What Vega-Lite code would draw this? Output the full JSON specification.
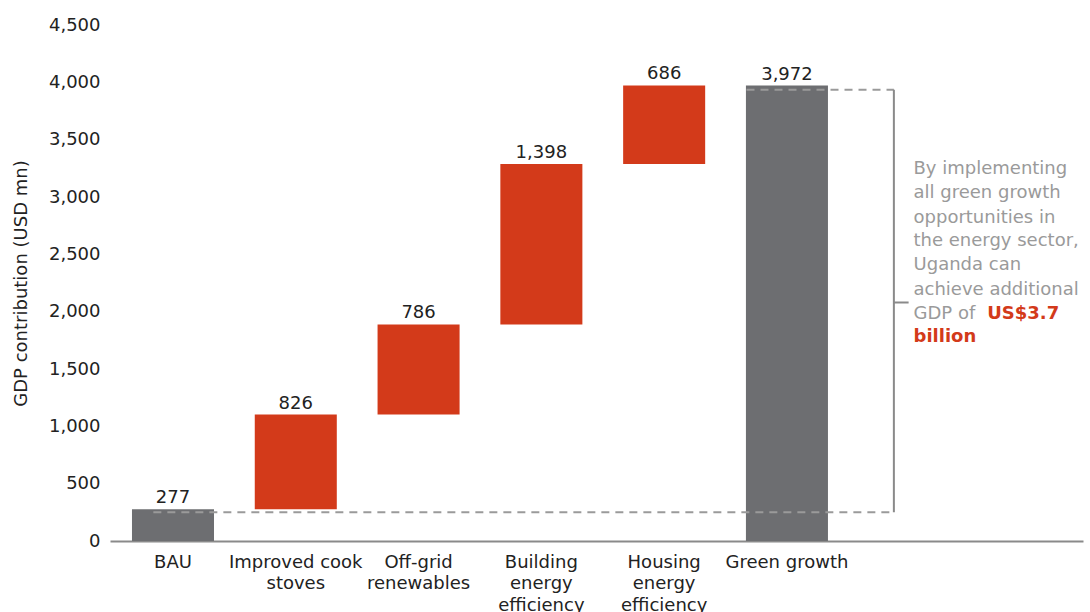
{
  "$schema": "https://vega.github.io/schema/vega-lite/v6.json",
  "width": 973,
  "height": 516,
  "autosize": {"type": "none"},
  "padding": {"left": 110, "top": 25, "right": 7, "bottom": 71},
  "config": {
    "view": {"stroke": null},
    "font": "DejaVu Sans",
    "text": {"font": "DejaVu Sans"}
  },
  "resolve": {"scale": {"x": "independent", "color": "independent"}, "axis": {"x": "independent"}},
  "layer": [
    {
      "data": {"name": "bars", "values": [
        {"cat": "BAU", "start": 0, "end": 277, "value": 277, "kind": "total"},
        {"cat": "Improved cook stoves", "start": 277, "end": 1103, "value": 826, "kind": "change"},
        {"cat": "Off-grid renewables", "start": 1103, "end": 1889, "value": 786, "kind": "change"},
        {"cat": "Building energy efficiency", "start": 1889, "end": 3287, "value": 1398, "kind": "change"},
        {"cat": "Housing energy efficiency", "start": 3287, "end": 3973, "value": 686, "kind": "change"},
        {"cat": "Green growth", "start": 0, "end": 3972, "value": 3972, "kind": "total"}
      ]},
      "encoding": {
        "x": {
          "field": "cat", "type": "nominal",
          "scale": {"domain": ["BAU", "Improved cook stoves", "Off-grid renewables", "Building energy efficiency", "Housing energy efficiency", "Green growth", " "], "paddingInner": 0.332, "paddingOuter": 0.628, "align": 0.1425, "round": false},
          "axis": {
            "title": null, "labelAngle": 0, "ticks": false, "domainColor": "#8a8a8a", "domainWidth": 2,
            "labelFontSize": 18, "labelColor": "#222222", "labelPadding": 12, "labelLineHeight": 21.5,
            "labelFont": "DejaVu Sans", "labelBaseline": "top", "labelLimit": 200,
            "labelExpr": "datum.value == 'Improved cook stoves' ? ['Improved cook', 'stoves'] : datum.value == 'Off-grid renewables' ? ['Off-grid', 'renewables'] : datum.value == 'Building energy efficiency' ? ['Building', 'energy', 'efficiency'] : datum.value == 'Housing energy efficiency' ? ['Housing', 'energy', 'efficiency'] : datum.value"
          }
        }
      },
      "layer": [
        {
          "mark": {"type": "bar"},
          "encoding": {
            "y": {
              "field": "start", "type": "quantitative",
              "scale": {"domain": [0, 4500]},
              "axis": {
                "title": "GDP contribution (USD mn)", "values": [0, 500, 1000, 1500, 2000, 2500, 3000, 3500, 4000, 4500],
                "format": ",d", "domain": false, "ticks": false, "grid": false,
                "labelFontSize": 18, "labelColor": "#222222", "labelPadding": 10, "labelFont": "DejaVu Sans",
                "titleFontSize": 18, "titleFontWeight": "normal", "titleColor": "#222222", "titleFont": "DejaVu Sans", "titlePadding": 18
              }
            },
            "y2": {"field": "end"},
            "color": {"field": "kind", "type": "nominal", "scale": {"domain": ["total", "change"], "range": ["#6d6e71", "#d33a1a"]}, "legend": null}
          }
        },
        {
          "mark": {"type": "text", "baseline": "bottom", "dy": -2, "fontSize": 18, "color": "#222222"},
          "encoding": {
            "y": {"field": "end", "type": "quantitative"},
            "text": {"field": "value", "type": "quantitative", "format": ",d"}
          }
        }
      ]
    },
    {
      "data": {"name": "annot", "values": [
        {"u": -0.16, "u2": 5.87, "v": 250},
        {"u": 4.67, "u2": 5.87, "v": 3935}
      ]},
      "mark": {"type": "rule", "strokeDash": [8, 6], "strokeWidth": 2, "color": "#9a9a9a"},
      "encoding": {
        "x": {"field": "u", "type": "quantitative", "scale": {"domain": [-0.513, 7.41]}, "axis": null},
        "x2": {"field": "u2"},
        "y": {"field": "v", "type": "quantitative"}
      }
    },
    {
      "data": {"name": "bracket", "values": [
        {"u": 5.87, "v": 250, "v2": 3935}
      ]},
      "mark": {"type": "rule", "strokeWidth": 2, "color": "#8a8a8a"},
      "encoding": {
        "x": {"field": "u", "type": "quantitative", "scale": {"domain": [-0.513, 7.41]}, "axis": null},
        "y": {"field": "v", "type": "quantitative"},
        "y2": {"field": "v2"}
      }
    },
    {
      "data": {"name": "tip", "values": [
        {"u": 5.87, "u2": 5.99, "v": 2080}
      ]},
      "mark": {"type": "rule", "strokeWidth": 2, "color": "#8a8a8a"},
      "encoding": {
        "x": {"field": "u", "type": "quantitative", "scale": {"domain": [-0.513, 7.41]}, "axis": null},
        "x2": {"field": "u2"},
        "y": {"field": "v", "type": "quantitative"}
      }
    },
    {
      "data": {"name": "note", "values": [
        {"t": "By implementing", "u": 6.03, "v": 3240},
        {"t": "all green growth", "u": 6.03, "v": 3031},
        {"t": "opportunities in", "u": 6.03, "v": 2821},
        {"t": "the energy sector,", "u": 6.03, "v": 2612},
        {"t": "Uganda can", "u": 6.03, "v": 2403},
        {"t": "achieve additional", "u": 6.03, "v": 2193},
        {"t": "GDP of", "u": 6.03, "v": 1984}
      ]},
      "mark": {"type": "text", "align": "left", "baseline": "middle", "fontSize": 18, "color": "#9a9a9a"},
      "encoding": {
        "x": {"field": "u", "type": "quantitative", "scale": {"domain": [-0.513, 7.41]}, "axis": null},
        "y": {"field": "v", "type": "quantitative"},
        "text": {"field": "t"}
      }
    },
    {
      "data": {"name": "noteRed", "values": [
        {"t": "US$3.7", "u": 6.63, "v": 1984},
        {"t": "billion", "u": 6.03, "v": 1775}
      ]},
      "mark": {"type": "text", "align": "left", "baseline": "middle", "fontSize": 18, "color": "#d33a1a", "fontWeight": "bold"},
      "encoding": {
        "x": {"field": "u", "type": "quantitative", "scale": {"domain": [-0.513, 7.41]}, "axis": null},
        "y": {"field": "v", "type": "quantitative"},
        "text": {"field": "t"}
      }
    }
  ]
}
